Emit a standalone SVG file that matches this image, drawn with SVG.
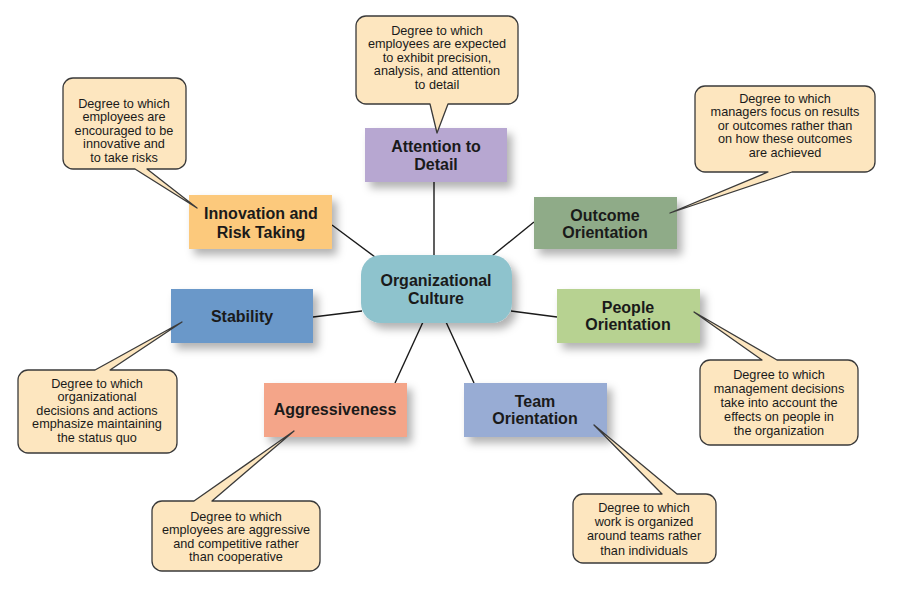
<svg xmlns="http://www.w3.org/2000/svg" width="900" height="599" viewBox="0 0 900 599">
<defs>
<filter id="sh" x="-20%" y="-20%" width="150%" height="160%">
<feDropShadow dx="5" dy="6" stdDeviation="4" flood-color="#000" flood-opacity="0.3"/>
</filter>
<style>
.box{filter:url(#sh);}
.lbl{font-family:"Liberation Sans",Arial,sans-serif;font-weight:bold;font-size:16px;fill:#1a1a1a;text-anchor:middle;}
.co{fill:#fde6bf;stroke:#3a3a3a;stroke-width:1.3;stroke-linejoin:round;}
.ct{font-family:"Liberation Sans",Arial,sans-serif;font-size:12.7px;fill:#1a1a1a;text-anchor:middle;}
.ln{stroke:#1a1a1a;stroke-width:1.4;fill:none;}
</style>
</defs>
<rect width="900" height="599" fill="#ffffff"/>
<g id="connectors">
<line class="ln" x1="434" y1="182" x2="434" y2="256"/>
<line class="ln" x1="332" y1="225" x2="375" y2="257"/>
<line class="ln" x1="534" y1="222" x2="492" y2="256"/>
<line class="ln" x1="313" y1="317" x2="362" y2="311"/>
<line class="ln" x1="511" y1="311" x2="557" y2="317"/>
<line class="ln" x1="423" y1="322" x2="395" y2="383"/>
<line class="ln" x1="446" y1="322" x2="474" y2="383"/>
</g>
<g id="center">
<rect class="box" x="361" y="255" width="151" height="68" rx="20" fill="#8ec3cd"/>
<text class="lbl"><tspan x="436" y="286">Organizational</tspan><tspan x="436" y="304">Culture</tspan></text>
</g>
<g id="attention">
<rect class="box" x="365" y="128" width="142" height="54" fill="#b7a7d1"/>
<text class="lbl"><tspan x="436" y="152">Attention to</tspan><tspan x="436" y="170">Detail</tspan></text>
</g>
<g id="innovation">
<rect class="box" x="189" y="195" width="143" height="54" fill="#fcc97b"/>
<text class="lbl"><tspan x="261" y="219">Innovation and</tspan><tspan x="261" y="238">Risk Taking</tspan></text>
</g>
<g id="outcome">
<rect class="box" x="534" y="197" width="143" height="52" fill="#8fab88"/>
<text class="lbl"><tspan x="605" y="221">Outcome</tspan><tspan x="605" y="238">Orientation</tspan></text>
</g>
<g id="stability">
<rect class="box" x="171" y="289" width="142" height="54" fill="#6b98c9"/>
<text class="lbl" x="242" y="322">Stability</text>
</g>
<g id="people">
<rect class="box" x="557" y="289" width="143" height="54" fill="#b7d291"/>
<text class="lbl"><tspan x="628" y="313">People</tspan><tspan x="628" y="330">Orientation</tspan></text>
</g>
<g id="aggressiveness">
<rect class="box" x="264" y="383" width="143" height="54" fill="#f4a589"/>
<text class="lbl" x="335" y="415">Aggressiveness</text>
</g>
<g id="team">
<rect class="box" x="464" y="383" width="143" height="54" fill="#98acd4"/>
<text class="lbl"><tspan x="535" y="407">Team</tspan><tspan x="535" y="424">Orientation</tspan></text>
</g>
<g id="callout-attention">
<path class="co" d="M366,16 H508 A10,10 0 0 1 518,26 V94 A10,10 0 0 1 508,104 H448 L437,133 L430,104 H366 A10,10 0 0 1 356,94 V26 A10,10 0 0 1 366,16 Z"/>
<text class="ct"><tspan x="437" y="34.5">Degree to which</tspan><tspan x="437" y="48">employees are expected</tspan><tspan x="437" y="61.5">to exhibit precision,</tspan><tspan x="437" y="75">analysis, and attention</tspan><tspan x="437" y="88.5">to detail</tspan></text>
</g>
<g id="callout-innovation">
<path class="co" d="M73,78 H176 A10,10 0 0 1 186,88 V159 A10,10 0 0 1 176,169 H147 L197,208 L135,169 H73 A10,10 0 0 1 63,159 V88 A10,10 0 0 1 73,78 Z"/>
<text class="ct"><tspan x="124" y="107.5">Degree to which</tspan><tspan x="124" y="121">employees are</tspan><tspan x="124" y="134.5">encouraged to be</tspan><tspan x="124" y="148">innovative and</tspan><tspan x="124" y="161.5">to take risks</tspan></text>
</g>
<g id="callout-outcome">
<path class="co" d="M705,86 H865 A10,10 0 0 1 875,96 V162 A10,10 0 0 1 865,172 H792 L670,213 L768,172 H705 A10,10 0 0 1 695,162 V96 A10,10 0 0 1 705,86 Z"/>
<text class="ct"><tspan x="785" y="102.5">Degree to which</tspan><tspan x="785" y="116">managers focus on results</tspan><tspan x="785" y="129.5">or outcomes rather than</tspan><tspan x="785" y="143">on how these outcomes</tspan><tspan x="785" y="156.5">are achieved</tspan></text>
</g>
<g id="callout-stability">
<path class="co" d="M28,370 H95 L182,322 L110,370 H167 A10,10 0 0 1 177,380 V443 A10,10 0 0 1 167,453 H28 A10,10 0 0 1 18,443 V380 A10,10 0 0 1 28,370 Z"/>
<text class="ct"><tspan x="97" y="387.5">Degree to which</tspan><tspan x="97" y="401">organizational</tspan><tspan x="97" y="414.5">decisions and actions</tspan><tspan x="97" y="428">emphasize maintaining</tspan><tspan x="97" y="441.5">the status quo</tspan></text>
</g>
<g id="callout-people">
<path class="co" d="M710,360 H762 L694,312 L777,360 H848 A10,10 0 0 1 858,370 V435 A10,10 0 0 1 848,445 H710 A10,10 0 0 1 700,435 V370 A10,10 0 0 1 710,360 Z"/>
<text class="ct"><tspan x="779" y="378.5">Degree to which</tspan><tspan x="779" y="392.5">management decisions</tspan><tspan x="779" y="406.5">take into account the</tspan><tspan x="779" y="420.5">effects on people in</tspan><tspan x="779" y="434.5">the organization</tspan></text>
</g>
<g id="callout-aggressiveness">
<path class="co" d="M162,501 H194 L294,431 L212,501 H310 A10,10 0 0 1 320,511 V561 A10,10 0 0 1 310,571 H162 A10,10 0 0 1 152,561 V511 A10,10 0 0 1 162,501 Z"/>
<text class="ct"><tspan x="236" y="520.5">Degree to which</tspan><tspan x="236" y="534">employees are aggressive</tspan><tspan x="236" y="547.5">and competitive rather</tspan><tspan x="236" y="561">than cooperative</tspan></text>
</g>
<g id="callout-team">
<path class="co" d="M583,494 H662 L594,425 L677,494 H706 A10,10 0 0 1 716,504 V553 A10,10 0 0 1 706,563 H583 A10,10 0 0 1 573,553 V504 A10,10 0 0 1 583,494 Z"/>
<text class="ct"><tspan x="644" y="511.5">Degree to which</tspan><tspan x="644" y="526">work is organized</tspan><tspan x="644" y="540">around teams rather</tspan><tspan x="644" y="554.5">than individuals</tspan></text>
</g>
</svg>
